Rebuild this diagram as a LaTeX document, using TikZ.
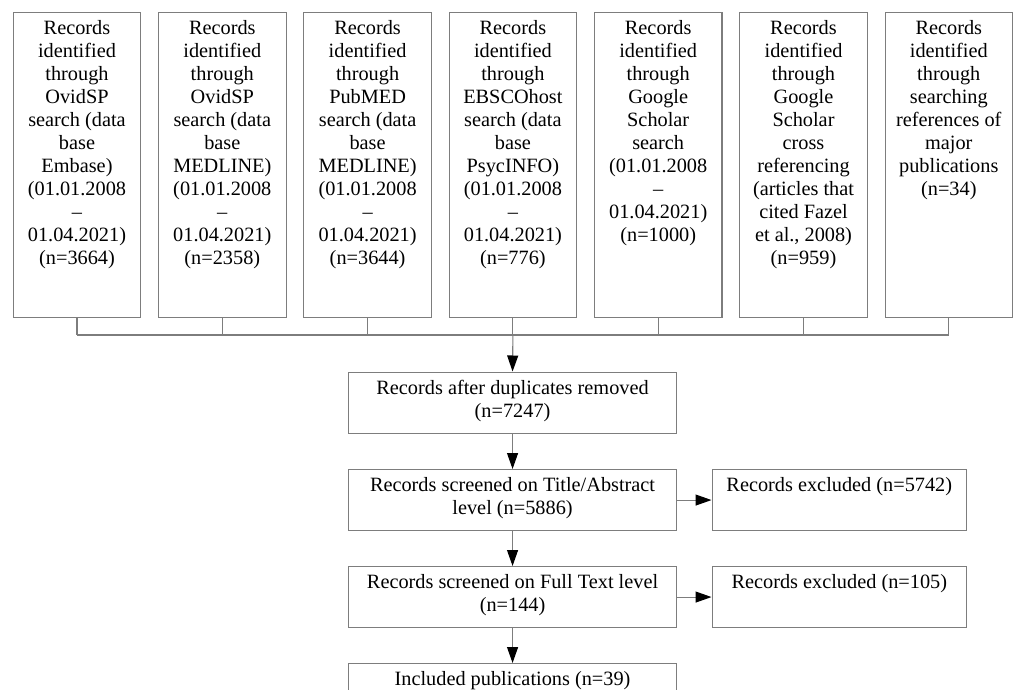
\documentclass[tikz,border=0pt]{standalone}
\usepackage{fontspec}
\setmainfont{Liberation Serif}
\usetikzlibrary{arrows.meta}
\definecolor{linegray}{RGB}{125,125,125}
\tikzset{
  boxshape/.style={draw=linegray, line width=1.1pt, inner sep=0pt, anchor=north west},
  topbox/.style={boxshape, minimum width=127.5pt, minimum height=305pt},
  midbox/.style={boxshape, minimum width=327.4pt, minimum height=61pt},
  sidebox/.style={boxshape, minimum width=254.5pt, minimum height=61pt},
  txt/.style={anchor=north, inner sep=0pt, align=center,
              font=\fontsize{20.3}{23}\selectfont},
  conn/.style={draw=linegray, line width=1.1pt},
  arr/.style={conn, -{Triangle[length=16pt,width=11pt,color=black]}}
}
\begin{document}
\begin{tikzpicture}[x=1pt,y=-1pt]
\clip (0,0) rectangle (1015,690);
\fill[white] (0,0) rectangle (1015,690);
% top boxes
\node[topbox] (t1) at (12.7,12) {};
\node[topbox] (t2) at (158.0,12) {};
\node[topbox] (t3) at (303.3,12) {};
\node[topbox] (t4) at (448.6,12) {};
\node[topbox] (t5) at (593.9,12) {};
\node[topbox] (t6) at (739.2,12) {};
\node[topbox] (t7) at (884.5,12) {};
\node[txt] (l1) at ([yshift=-8.6pt]t1.north) {Records\\identified\\through\\OvidSP\\search (data\\base\\Embase)\\(01.01.2008\\–\\01.04.2021)\\(n=3664)};
\node[txt] (l2) at ([yshift=-8.6pt]t2.north) {Records\\identified\\through\\OvidSP\\search (data\\base\\MEDLINE)\\(01.01.2008\\–\\01.04.2021)\\(n=2358)};
\node[txt] (l3) at ([yshift=-8.6pt]t3.north) {Records\\identified\\through\\PubMED\\search (data\\base\\MEDLINE)\\(01.01.2008\\–\\01.04.2021)\\(n=3644)};
\node[txt] (l4) at ([yshift=-8.6pt]t4.north) {Records\\identified\\through\\EBSCOhost\\search (data\\base\\PsycINFO)\\(01.01.2008\\–\\01.04.2021)\\(n=776)};
\node[txt] (l5) at ([yshift=-8.6pt]t5.north) {Records\\identified\\through\\Google\\Scholar\\search\\(01.01.2008\\–\\01.04.2021)\\(n=1000)};
\node[txt] (l6) at ([yshift=-8.6pt]t6.north) {Records\\identified\\through\\Google\\Scholar\\cross\\referencing\\(articles that\\cited Fazel\\et al., 2008)\\(n=959)};
\node[txt] (l7) at ([yshift=-8.6pt]t7.north) {Records\\identified\\through\\searching\\references of\\major\\publications\\(n=34)};
% lower boxes
\node[midbox] (A) at (348.3,371.5) {};
\node[midbox] (B) at (348.3,469) {};
\node[sidebox] (C) at (711.5,469) {};
\node[midbox] (D) at (348.3,566) {};
\node[sidebox] (E) at (711.5,566) {};
\node[midbox] (F) at (348.3,663) {};
\node[txt] (lA) at ([yshift=-8.6pt]A.north) {Records after duplicates removed\\(n=7247)};
\node[txt] (lB) at ([yshift=-8.6pt]B.north) {Records screened on Title/Abstract\\level (n=5886)};
\node[txt] (lC) at ([yshift=-8.6pt]C.north) {Records excluded (n=5742)};
\node[txt] (lD) at ([yshift=-8.6pt]D.north) {Records screened on Full Text level\\(n=144)};
\node[txt] (lE) at ([yshift=-8.6pt]E.north) {Records excluded (n=105)};
\node[txt] (lF) at ([yshift=-8.6pt]F.north) {Included publications (n=39)};
% connectors
\coordinate (bar) at (0,335);
\foreach \i in {1,...,7} {\draw[conn] (t\i.south) -- (t\i.south |- bar);}
\draw[conn] (t1.south |- bar) -- (t7.south |- bar);
\draw[arr] (t4.south |- bar) -- (A.north);
\draw[arr] (A.south) -- (B.north);
\draw[arr] (B.east) -- (C.west);
\draw[arr] (B.south) -- (D.north);
\draw[arr] (D.east) -- (E.west);
\draw[arr] (D.south) -- (F.north);
\end{tikzpicture}
\end{document}
